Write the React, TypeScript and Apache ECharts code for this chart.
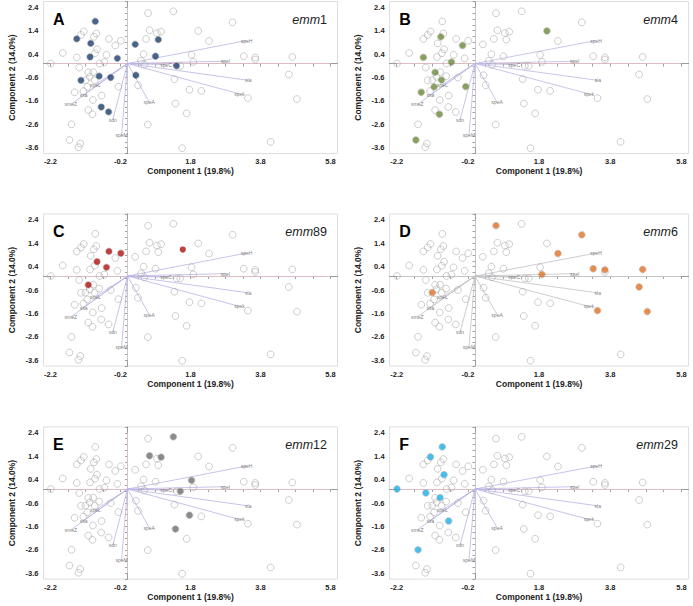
import React, { useEffect, useRef } from 'react';
import * as echarts from 'echarts';

// All strain profiles (open circles), PCA scores
const bgX = [
  -2.19, -1.85, -1.45, -1.33, -1.25, -0.92, -0.89, -0.96, -1.05, -0.87,
  -0.93, -1.07, -1.45, -1.38, -0.53, -0.35, -0.19, -0.60, -0.66, -0.80,
  -0.29, -1.12, -0.98, -1.08, -0.94, -0.81, -1.33, -1.20, -0.48, -1.15,
  -1.26, -1.51, -0.74, -0.99, -0.26, -1.12, -1.00, -0.75, -0.54, -1.60,
  -1.66, -1.35, -1.40,
  0.22, 0.46, 0.39, 0.48, 0.53, 0.63, 0.80, 0.84, 0.88, 0.96,
  0.24, 0.30, 0.58, 1.31, 1.34, 1.40, 1.51, 1.37, 1.56, 1.69,
  1.77, 1.83, 2.11, 2.02, 0.59, 2.33, 3.00, 1.88, 3.32, 3.65,
  3.65, 4.71, 4.61, 3.44, 4.84, 4.09,
];
const bgY = [
  0.00, 0.45, 1.05, 1.22, 1.37, 1.80, 1.28, 1.14, 0.86, 0.61,
  0.44, 0.28, 0.26, -0.17, 1.05, 0.77, 0.97, 0.37, 0.06, 0.00,
  0.22, -0.38, -0.37, -0.57, -0.71, -0.54, -0.72, -0.71, -0.60, -1.00,
  -1.18, -1.23, -1.37, -1.56, -0.99, -1.99, -2.17, -1.86, -2.07, -2.60,
  -3.27, -3.42, -3.58,
  0.82, 0.40, 0.12, -0.05, 1.05, 1.42, 0.31, 1.30, 1.02, 1.36,
  -0.50, -0.93, -2.61, 2.23, -0.67, -0.10, -0.10, -1.71, -3.62, -2.13,
  -1.12, 0.37, -1.17, 1.39, 2.15, 0.96, 1.76, 0.07, 0.31, 0.26,
  0.17, 0.28, -0.47, -1.48, -1.52, -3.35,
];

// Highlighted strains per emm type
const emm1X = [-0.92, -1.45, -1.05, -1.07, -0.29, 0.22, 0.88, 0.80, 0.24, 1.40, -1.33, -0.81, -0.48, -0.75, -0.54];
const emm1Y = [1.80, 1.05, 0.86, 0.28, 0.22, 0.82, 1.02, 0.31, -0.50, -0.10, -0.72, -0.54, -0.60, -1.86, -2.07];
const emm4X = [-0.96, -0.35, -1.45, -0.66, 2.02, -1.12, -0.94, -1.15, -0.26, -1.51, -1.00, -1.66];
const emm4Y = [1.14, 0.77, 0.26, 0.06, 1.39, -0.38, -0.71, -1.00, -0.99, -1.23, -2.17, -3.27];
const emm89X = [-0.53, -0.19, -0.87, -0.60, -1.12, 1.58];
const emm89Y = [1.05, 0.97, 0.61, 0.37, -0.38, 1.13];
const emm6X = [0.59, 2.33, 3.00, 1.88, 3.32, 3.65, 4.71, 4.61, 3.44, 4.84, -1.20];
const emm6Y = [2.15, 0.96, 1.76, 0.07, 0.31, 0.26, 0.28, -0.47, -1.48, -1.52, -0.71];
const emm12X = [1.31, 0.63, 0.96, 1.83, 1.51, 1.77, 1.37];
const emm12Y = [2.23, 1.42, 1.36, 0.37, -0.10, -1.12, -1.71];
const emm29X = [-0.92, -1.25, -0.87, -2.19, -1.38, -0.98, -0.74, -1.60];
const emm29Y = [1.80, 1.37, 0.61, 0.00, -0.17, -0.37, -1.37, -2.60];

// Gene loadings (vector tips)
const geneNames = ['speH', 'speI', 'sla', 'spek', 'speC', 'speA', 'sdn', 'speM', 'speL', 'ssa', 'smeZ'];
const geneX = [3.40, 2.80, 3.45, 3.20, 1.10, 0.62, -0.42, -0.17, -0.92, -1.25, -1.62];
const geneY = [0.98, 0.10, -0.72, -1.30, -0.05, -1.65, -2.40, -3.05, -0.90, -1.35, -1.75];

const xTickLabels = [-2.2, -0.2, 1.8, 3.8, 5.8];
const yTickLabels = [2.4, 1.4, 0.4, -0.6, -1.6, -2.6, -3.6];

const FONT = '"Liberation Sans", Arial, sans-serif';

const panels = [
  { letter: 'A', emm: '1', xs: emm1X, ys: emm1Y, color: '#1c3d6b', col: 0, row: 0, vec: '#bab4e6', h: '#efc6ce', v: '#dccfe0' },
  { letter: 'B', emm: '4', xs: emm4X, ys: emm4Y, color: '#6a8a3a', col: 1, row: 0, vec: '#bdb7e4', h: '#efc6ce', v: '#dccfe0' },
  { letter: 'C', emm: '89', xs: emm89X, ys: emm89Y, color: '#b0100f', col: 0, row: 1, vec: '#bab4e6', h: '#efc6ce', v: '#e0cfd4' },
  { letter: 'D', emm: '6', xs: emm6X, ys: emm6Y, color: '#e07020', col: 1, row: 1, vec: '#c2c2c6', h: '#cfcfcf', v: '#cfcfcf' },
  { letter: 'E', emm: '12', xs: emm12X, ys: emm12Y, color: '#6e6e6e', col: 0, row: 2, vec: '#bab4e6', h: '#efc6ce', v: '#e8cccc' },
  { letter: 'F', emm: '29', xs: emm29X, ys: emm29Y, color: '#1aaee6', col: 1, row: 2, vec: '#bab4e6', h: '#efc6ce', v: '#dccfe0' },
];

const COLS = [{ xz: 127.5, ppu: 35 }, { xz: 475, ppu: 35.6 }];
const ROWS = [63.5, 276, 489];
const PPUY = 23.4;

const XMIN = -2.4, XMAX = 6.0;
const YMIN = -3.85, YMAX = 2.65;

function near(list: number[], v: number) {
  return list.some((t) => Math.abs(t - v) < 1e-6);
}

function buildOption() {
  const grid: any[] = [];
  const xAxis: any[] = [];
  const yAxis: any[] = [];
  const series: any[] = [];
  const graphic: any[] = [];

  panels.forEach((p, i) => {
    const { xz, ppu } = COLS[p.col];
    const yz = ROWS[p.row];
    const top = yz - YMAX * PPUY;
    const height = (YMAX - YMIN) * PPUY;
    grid.push({
      left: xz + XMIN * ppu, top, width: (XMAX - XMIN) * ppu, height,
      show: true, borderColor: '#dedede', borderWidth: 1, backgroundColor: 'transparent',
    });
    grid.push({ left: xz - 2.2 * ppu, top, width: 8 * ppu, height });

    const gMain = 2 * i, gTick = 2 * i + 1;
    xAxis.push({
      type: 'value', gridIndex: gMain, min: XMIN, max: XMAX,
      axisLine: { show: true, lineStyle: { color: '#9a9a9a', width: 1 } },
      axisTick: { show: false }, axisLabel: { show: false }, splitLine: { show: false },
    });
    xAxis.push({
      type: 'value', gridIndex: gTick, min: -2.2, max: 5.8, interval: 0.5,
      axisLine: { show: false },
      axisTick: { show: true, length: 3, lineStyle: { color: '#8a8a8a', width: 0.8 } },
      axisLabel: {
        show: true, margin: 4, fontFamily: FONT, fontWeight: 'bold', fontSize: 7.5, color: '#222',
        formatter: (v: number) => (near(xTickLabels, v) ? v.toFixed(1) : ''),
      },
      splitLine: { show: false },
      name: 'Component 1 (19.8%)', nameLocation: 'middle', nameGap: 13,
      nameTextStyle: { fontFamily: FONT, fontWeight: 'bold', fontSize: 8.5, color: '#222' },
    });
    yAxis.push({
      type: 'value', gridIndex: gMain, min: YMIN, max: YMAX, interval: 0.25,
      axisLine: { show: true, lineStyle: { color: '#9a9a9a', width: 1 } },
      axisTick: { show: true, length: 2.5, lineStyle: { color: '#8a8a8a', width: 0.8 } },
      axisLabel: {
        show: true, margin: 5, fontFamily: FONT, fontWeight: 'bold', fontSize: 7.5, color: '#222',
        formatter: (v: number) => (near(yTickLabels, Math.round(v * 100) / 100) ? v.toFixed(1) : ''),
      },
      splitLine: { show: false },
      name: 'Component 2 (14.0%)', nameLocation: 'middle', nameGap: 27,
      nameTextStyle: { fontFamily: FONT, fontWeight: 'bold', fontSize: 8.5, color: '#222' },
    });
    yAxis.push({ type: 'value', gridIndex: gTick, min: YMIN, max: YMAX, show: false });

    // reference cross lines
    series.push({
      type: 'lines', coordinateSystem: 'cartesian2d', xAxisIndex: gMain, yAxisIndex: gMain,
      silent: true, z: 1, animation: false,
      lineStyle: { width: 0.8, opacity: 1 },
      data: [
        { coords: [[xTickLabels[0], 0], [xTickLabels[xTickLabels.length - 1], 0]], lineStyle: { color: p.h } },
        { coords: [[0, yTickLabels[0]], [0, yTickLabels[yTickLabels.length - 1]]], lineStyle: { color: p.v } },
      ],
    });
    // loading vectors
    series.push({
      type: 'lines', coordinateSystem: 'cartesian2d', xAxisIndex: gMain, yAxisIndex: gMain,
      silent: true, z: 2, animation: false,
      lineStyle: { width: 0.8, color: p.vec, opacity: 1 },
      data: geneNames.map((_, k) => ({ coords: [[0, 0], [geneX[k], geneY[k]]] })),
    });
    // all strains as open circles
    series.push({
      type: 'scatter', xAxisIndex: gMain, yAxisIndex: gMain, z: 3,
      symbol: 'circle', symbolSize: 6.8,
      itemStyle: { color: 'rgba(255,255,255,0)', borderColor: '#a6a6a6', borderWidth: 0.7 },
      data: bgX.map((x, k) => [x, bgY[k]]),
    });
    // highlighted emm type
    series.push({
      type: 'scatter', xAxisIndex: gMain, yAxisIndex: gMain, z: 4,
      symbol: 'circle', symbolSize: 6.2,
      itemStyle: { color: p.color, borderWidth: 0 },
      data: p.xs.map((x, k) => [x, p.ys[k]]),
    });
    // gene labels
    series.push({
      type: 'scatter', xAxisIndex: gMain, yAxisIndex: gMain, z: 5, silent: true,
      symbolSize: 1, itemStyle: { color: 'rgba(0,0,0,0)' },
      label: {
        show: true, position: 'inside', formatter: (d: any) => d.name,
        fontFamily: FONT, fontSize: 5, color: '#555',
      },
      data: geneNames.map((n, k) => ({ name: n, value: [geneX[k], geneY[k]] })),
    });

    graphic.push({
      type: 'text', x: xz - 2.13 * ppu, y: yz - 44.5,
      style: { text: p.letter, font: `bold 16px ${FONT}`, fill: '#000', verticalAlign: 'middle' },
    });
    graphic.push({
      type: 'text', x: xz + 5.7 * ppu, y: yz - 44,
      style: {
        text: `{i|emm}{n|${p.emm}}`, align: 'right', verticalAlign: 'middle', fill: '#222',
        rich: {
          i: { fontStyle: 'italic', fontSize: 12.5, fontFamily: FONT, fill: '#222' },
          n: { fontSize: 12.5, fontFamily: FONT, fill: '#222' },
        },
      },
    });
  });

  return { animation: false, backgroundColor: '#fff', grid, xAxis, yAxis, series, graphic };
}

export default function App() {
  const ref = useRef<HTMLDivElement>(null);
  useEffect(() => {
    document.body.style.margin = '0';
    if (!ref.current) return;
    const chart = echarts.init(ref.current, undefined, { renderer: 'svg' });
    chart.setOption(buildOption() as any);
    return () => chart.dispose();
  }, []);
  return <div ref={ref} style={{ width: 693, height: 606 }} />;
}
